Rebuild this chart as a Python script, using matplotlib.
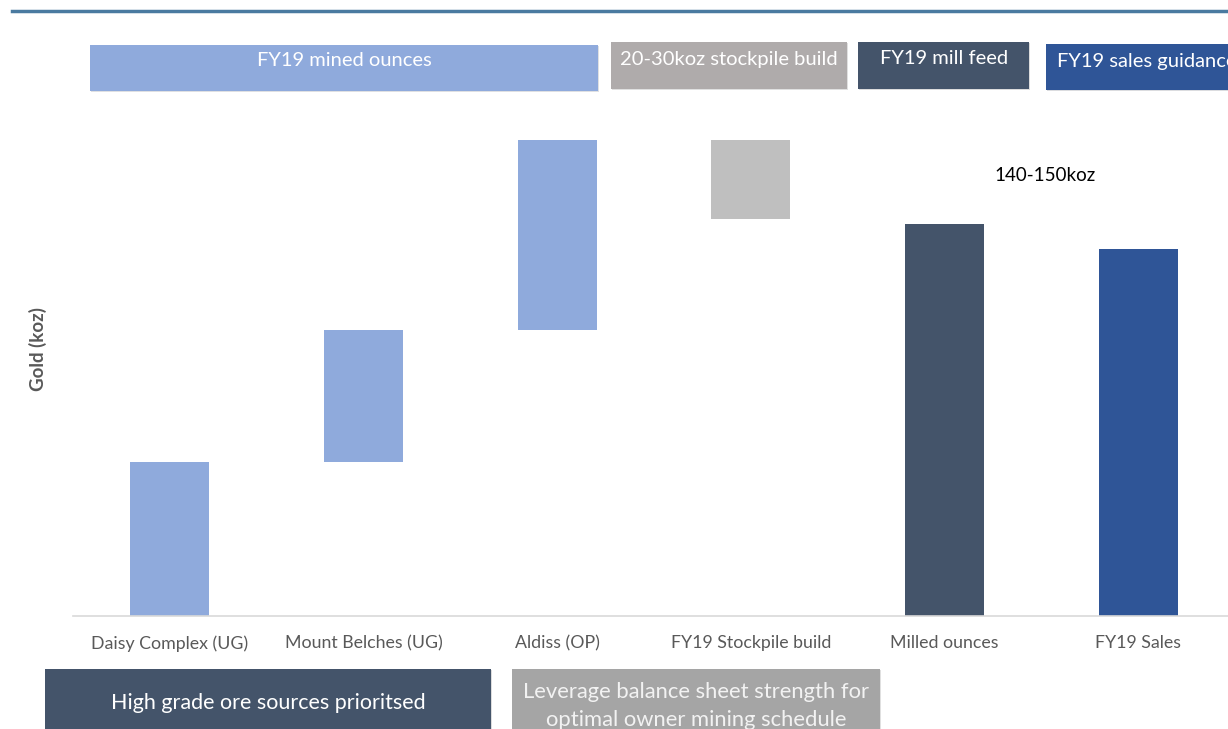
import matplotlib.pyplot as plt
from matplotlib.patches import Rectangle
import matplotlib.patheffects as pe

plt.rcParams['font.family'] = ['Lato', 'DejaVu Sans']

categories = ["Daisy Complex (UG)", "Mount Belches (UG)", "Aldiss (OP)",
              "FY19 Stockpile build", "Milled ounces", "FY19 Sales"]
bar_bottom = [0, 61, 113, 157, 0, 0]
bar_height = [61, 52, 75, 31, 155, 145]
bar_colors = ["#8FAADC", "#8FAADC", "#8FAADC", "#BFBFBF", "#44546A", "#2F5597"]

guidance_label = "140-150koz"

header_texts = ["FY19 mined ounces", "20-30koz stockpile build",
                "FY19 mill feed", "FY19 sales guidance"]
footer_texts = ["High grade ore sources prioritsed",
                "Leverage balance sheet strength for\noptimal owner mining schedule"]

W, H = 1228, 729
fig = plt.figure(figsize=(W / 100, H / 100), dpi=100)


def fx(x):
    return x / W


def fy(y):
    return 1 - y / H


# chart area
ax = fig.add_axes([fx(73), fy(616), fx(W - 73), (616 - 120) / H])
ax.bar(range(len(categories)), bar_height, bottom=bar_bottom,
       width=0.407, color=bar_colors)
ax.set_xlim(-0.5, 5.464)
ax.set_ylim(0, 196)
ax.set_xticks(range(len(categories)))
ax.set_xticklabels(categories, fontsize=12.8, color="#595959")
ax.tick_params(axis="x", length=0, pad=14)
ax.set_yticks([])
for s in ["top", "right", "left"]:
    ax.spines[s].set_visible(False)
ax.spines["bottom"].set_color("#D9D9D9")
ax.spines["bottom"].set_linewidth(1.2)

ax.text(4.52, 174, guidance_label, ha="center", va="center",
        fontsize=13.5, color="#000000")

fig.text(fx(38), fy(349), "Gold (koz)", rotation=90, ha="center", va="center",
         fontsize=13.5, fontweight="bold", color="#595959")

# top rule
fig.add_artist(plt.Line2D([fx(12), 1], [fy(11), fy(11)], color="#4A7AA0",
                          linewidth=2.5))

shadow = [pe.SimplePatchShadow(offset=(1, -1), alpha=0.15), pe.Normal()]


def box(x0, y0, x1, y1, color):
    r = Rectangle((fx(x0), fy(y1)), fx(x1 - x0), (y1 - y0) / H,
                  facecolor=color, edgecolor="none", transform=fig.transFigure,
                  path_effects=shadow)
    fig.add_artist(r)


# header boxes
box(90, 45, 598, 91, "#8FAADC")
fig.text(fx(344), fy(61), header_texts[0], ha="center", va="center",
         fontsize=14.5, color="white")
box(611, 42, 847, 89, "#AFABAB")
fig.text(fx(729), fy(60), header_texts[1], ha="center", va="center",
         fontsize=14.5, color="white")
box(858, 42, 1029, 89, "#44546A")
fig.text(fx(944), fy(58), header_texts[2], ha="center", va="center",
         fontsize=14.5, color="white")
# sales guidance box runs off the right edge
box(1046, 44, 1260, 90, "#2F5597")
fig.text(fx(1057), fy(61), header_texts[3], ha="left", va="center",
         fontsize=14.5, color="white")

# footer boxes
box(45, 669, 491, 740, "#44546A")
fig.text(fx(268), fy(703), footer_texts[0], ha="center", va="center",
         fontsize=15.5, color="white")
box(512, 669, 880, 740, "#A5A5A5")
fig.text(fx(696), fy(706), footer_texts[1], ha="center", va="center",
         fontsize=15.8, color="#F2F2F2", linespacing=1.45)

fig.savefig("out.png", dpi=100)
